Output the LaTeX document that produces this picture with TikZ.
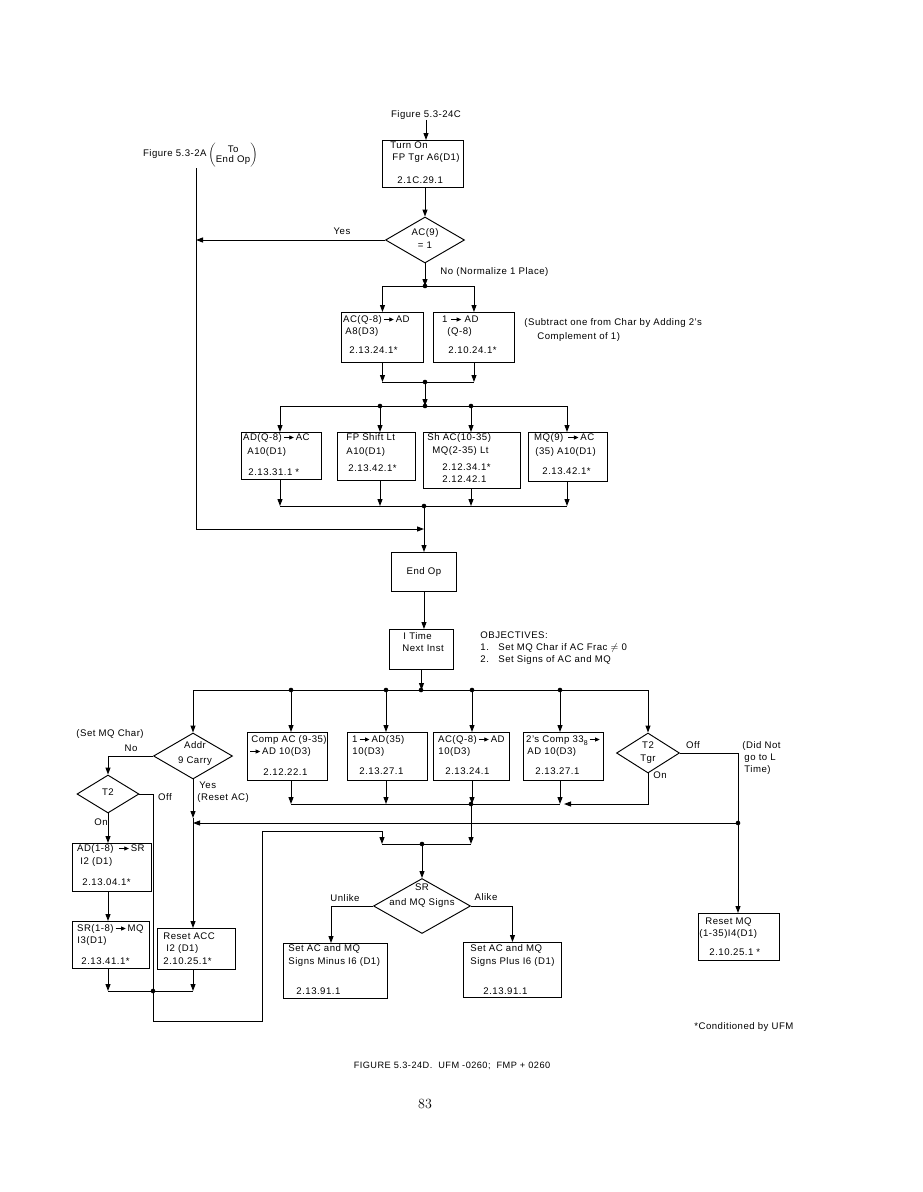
\documentclass[tikz,border=0pt]{standalone}
\usepackage{fontspec}
\setsansfont{Liberation Sans}[LetterSpace=5]
\usetikzlibrary{arrows.meta,shapes.geometric}
\newcommand{\rarr}{\,\tikz[baseline=0pt,x=1pt,y=1pt]\draw[line width=0.8pt,-{Triangle[length=4.5pt,width=4pt]}](0pt,3pt)--(10pt,3pt);\,}
\begin{document}
\begin{tikzpicture}[x=1pt,y=-1pt,line width=0.95pt,
  >={Triangle[length=7pt,width=5pt]},
  font=\sffamily\fontsize{9.6}{11}\selectfont,
  box/.style={draw,inner sep=0pt,anchor=north west},
  dia/.style={draw,diamond,inner sep=0pt},
  lbl/.style={inner sep=0pt,anchor=west,text height=7pt,text depth=2pt},
  clbl/.style={lbl,anchor=center}]
\fill[white] (0,0) rectangle (923,1192);
\useasboundingbox (0,0) rectangle (923,1192);

% ---------- top ----------
\node[clbl] (figC) at (426,115) {Figure 5.3-24C};
\node[box,minimum width=81pt,minimum height=47pt] (b1) at (382,140) {};
\node[lbl] (b1a) at (390,146) {Turn On};
\node[lbl] (b1b) at (392,158) {FP Tgr A6(D1)};
\node[lbl] (b1c) at (397,181) {2.1C.29.1};
\draw[->] (figC.south) -- (figC.south |- b1.north);

\node[dia,minimum width=79pt,minimum height=46pt] (d1) at (425,240) {};
\node[clbl] (d1a) at (425,233) {AC(9)};
\node[clbl] (d1b) at (425,246) {= 1};
\draw[->] (d1.north |- b1.south) -- (d1.north);

% left return line
\coordinate (L1) at (196,168);
\coordinate (L2) at (196,529);
\node[lbl,anchor=east] (fig2a) at (207,154) {Figure 5.3-2A};
\node[inner sep=0pt,anchor=west] (fig2b) at (208,155) {$\left(\begin{tabular}{@{}c@{}}To\\[-1pt]End Op\end{tabular}\right)$};
\draw[->] (d1.west) -- (d1.west -| L1);
\node[clbl] (yes1) at (342,232) {Yes};

% No branch
\coordinate (j1) at (425,286);
\draw[->] (d1.south) -- (j1);
\fill (j1) circle (2.3pt);
\node[lbl] (no1) at (440,272) {No (Normalize 1 Place)};

\node[box,minimum width=82pt,minimum height=50pt] (bA) at (341,312) {};
\node[box,minimum width=81pt,minimum height=50pt] (bB) at (433,312) {};
\draw (bA.north |- j1) -- (bB.north |- j1);
\draw[->] (bA.north |- j1) -- (bA.north);
\draw[->] (bB.north |- j1) -- (bB.north);
\node[lbl] (bAa) at (343,320) {AC(Q-8)\rarr AD};
\node[lbl] (bAb) at (345,332) {A8(D3)};
\node[lbl] (bAc) at (349,351) {2.13.24.1*};
\node[lbl] (bBa) at (442,320) {1\,\rarr\,AD};
\node[lbl] (bBb) at (447,332) {(Q-8)};
\node[lbl] (bBc) at (448,351) {2.10.24.1*};
\node[lbl] (sub1) at (524,323) {(Subtract one from Char by Adding 2's};
\node[lbl] (sub2) at (537,337) {Complement of 1)};

\coordinate (j2) at (425,382);
\draw[->] (bA.south) -- (bA.south |- j2);
\draw[->] (bB.south) -- (bB.south |- j2);
\draw (bA.south |- j2) -- (bB.south |- j2);
\fill (j2) circle (2.3pt);
\coordinate (j3) at (425,406);
\draw[->] (j2) -- (j3);

% four boxes
\node[box,minimum width=80pt,minimum height=47pt] (bC) at (241,432) {};
\node[box,minimum width=78pt,minimum height=48pt] (bD) at (337,432) {};
\node[box,minimum width=97pt,minimum height=56pt] (bE) at (423,432) {};
\node[box,minimum width=79pt,minimum height=49pt] (bF) at (528,432) {};
\coordinate (xC) at (280,406);
\coordinate (xD) at (380,406);
\coordinate (xE) at (471,406);
\coordinate (xF) at (567,406);
\draw (xC) -- (xF);
\foreach \p in {xD,j3,xE} \fill (\p) circle (2.3pt);
\draw[->] (xC) -- (xC |- bC.north);
\draw[->] (xD) -- (xD |- bD.north);
\draw[->] (xE) -- (xE |- bE.north);
\draw[->] (xF) -- (xF |- bF.north);
\node[lbl] (bCa) at (243,438) {AD(Q-8)\rarr AC};
\node[lbl] (bCb) at (247,452) {A10(D1)};
\node[lbl] (bCc) at (248,473) {2.13.31.1 *};
\node[lbl] (bDa) at (346,438) {FP Shift Lt};
\node[lbl] (bDb) at (346,452) {A10(D1)};
\node[lbl] (bDc) at (348,469) {2.13.42.1*};
\node[lbl] (bEa) at (427,438) {Sh AC(10-35)};
\node[lbl] (bEb) at (432,451) {MQ(2-35) Lt};
\node[lbl] (bEc) at (442,468) {2.12.34.1*};
\node[lbl] (bEd) at (442,480) {2.12.42.1};
\node[lbl] (bFa) at (534,438) {MQ(9) \rarr AC};
\node[lbl] (bFb) at (535,452) {(35) A10(D1)};
\node[lbl] (bFc) at (542,472) {2.13.42.1*};

\coordinate (j4) at (424,506);
\draw[->] (xC |- bC.south) -- (xC |- j4);
\draw[->] (xD |- bD.south) -- (xD |- j4);
\draw[->] (xE |- bE.south) -- (xE |- j4);
\draw[->] (xF |- bF.south) -- (xF |- j4);
\draw (xC |- j4) -- (xF |- j4);
\fill (j4) circle (2.3pt);

% End Op
\node[box,minimum width=65pt,minimum height=39pt] (bEnd) at (391,552) {};
\node[clbl] (bEnda) at (bEnd.center) {End Op};
\draw[->] (j4) -- (j4 |- bEnd.north);
\draw[->] (L1) -- (L2) -- (L2 -| j4);

% I Time
\node[box,minimum width=64pt,minimum height=40pt] (bIT) at (389,629) {};
\node[lbl] (bITa) at (403,637) {I Time};
\node[lbl] (bITb) at (402,649) {Next Inst};
\draw[->] (bEnd.south) -- (bEnd.south |- bIT.north);
\node[lbl] (obj0) at (480,636) {OBJECTIVES:};
\node[lbl] (obj1) at (480,648) {\makebox[18pt][l]{1.}Set MQ Char if AC Frac $\neq$ 0};
\node[lbl] (obj2) at (480,660) {\makebox[18pt][l]{2.}Set Signs of AC and MQ};

\coordinate (j5) at (421,690);
\draw[->] (bIT.south) -- (bIT.south |- j5);

% row of six
\coordinate (yA) at (193,690);
\coordinate (yG) at (291,690);
\coordinate (yH) at (386,690);
\coordinate (yI) at (472,690);
\coordinate (yJ) at (560,690);
\coordinate (yT) at (648,690);
\draw (yA) -- (yT);
\foreach \p in {yG,yH,j5,yI,yJ} \fill (\p) circle (2.3pt);

\node[dia,minimum width=79pt,minimum height=46pt] (dA) at (193,756) {};
\node[clbl] (dAa) at (195,746) {Addr};
\node[clbl] (dAb) at (195,761) {9 Carry};
\node[dia,minimum width=63pt,minimum height=40pt] (dT) at (648,753) {};
\node[clbl] (dTa) at (648,746) {T2};
\node[clbl] (dTb) at (648,759) {Tgr};

\node[box,minimum width=80pt,minimum height=48pt] (bG) at (247,732) {};
\node[box,minimum width=80pt,minimum height=48pt] (bH) at (347,732) {};
\node[box,minimum width=76pt,minimum height=48pt] (bI) at (433,732) {};
\node[box,minimum width=80pt,minimum height=48pt] (bJ) at (523,732) {};
\draw[->] (yA) -- (dA.north);
\draw[->] (yG) -- (yG |- bG.north);
\draw[->] (yH) -- (yH |- bH.north);
\draw[->] (yI) -- (yI |- bI.north);
\draw[->] (yJ) -- (yJ |- bJ.north);
\draw[->] (yT) -- (dT.north);

\node[lbl] (bGa) at (251,740) {Comp AC (9-35)};
\node[lbl] (bGb) at (248,752) {\rarr AD 10(D3)};
\node[lbl] (bGc) at (263,773) {2.12.22.1};
\node[lbl] (bHa) at (352,740) {1\rarr AD(35)};
\node[lbl] (bHb) at (352,752) {10(D3)};
\node[lbl] (bHc) at (359,772) {2.13.27.1};
\node[lbl] (bIa) at (438,740) {AC(Q-8)\rarr AD};
\node[lbl] (bIb) at (438,752) {10(D3)};
\node[lbl] (bIc) at (445,772) {2.13.24.1};
\node[lbl] (bJa) at (526,740) {2's Comp 33\raisebox{-2.5pt}{\fontsize{7}{8}\selectfont 8}\rarr};
\node[lbl] (bJb) at (527,752) {AD 10(D3)};
\node[lbl] (bJc) at (535,772) {2.13.27.1};

\coordinate (j6) at (471,804);
\draw[->] (yG |- bG.south) -- (yG |- j6);
\draw[->] (yH |- bH.south) -- (yH |- j6);
\draw[->] (yI |- bI.south) -- (yI |- j6);
\draw[->] (yJ |- bJ.south) -- (yJ |- j6);
\draw (yG |- j6) -- (yJ |- j6);
\draw[->] (dT.south) |- (564,804);
\fill (j6) circle (2.3pt);
\node[clbl] (on1) at (660,776) {On};
\node[clbl] (off1) at (693,746) {Off};
\node[lbl] (dn1) at (742,746) {(Did Not};
\node[lbl] (dn2) at (744,758) {go to L};
\node[lbl] (dn3) at (744,770) {Time)};

% Off branch of T2 Tgr
\coordinate (jR) at (738,823);
\node[box,minimum width=81pt,minimum height=47pt] (bP) at (698,913) {};
\draw (dT.east) -| (jR);
\fill (jR) circle (2.3pt);
\draw[->] (jR) -- (jR |- bP.north);
\node[lbl] (bPa) at (705,922) {Reset MQ};
\node[lbl] (bPb) at (699,934) {(1-35)I4(D1)};
\node[lbl] (bPc) at (709,953) {2.10.25.1 *};

% left part
\node[lbl] (smq) at (76,734) {(Set MQ Char)};
\node[clbl] (no2) at (131,749) {No};
\node[dia,minimum width=62pt,minimum height=38pt] (d2) at (108,794) {};
\node[clbl] (d2a) at (108,793) {T2};
\draw[->] (dA.west) -| (d2.north);
\node[clbl] (off2) at (165,798) {Off};
\node[clbl] (on2) at (101,823) {On};
\node[lbl] (yes2) at (199,786) {Yes};
\node[lbl] (yes3) at (197,798) {(Reset AC)};

\node[box,minimum width=79pt,minimum height=48pt] (bK) at (72,843) {};
\node[box,minimum width=77pt,minimum height=47pt] (bL) at (72,921) {};
\node[box,minimum width=78pt,minimum height=41pt] (bM) at (157,928) {};
\draw[->] (d2.south) -- (d2.south |- bK.north);
\draw[->] (d2.south |- bK.south) -- (d2.south |- bL.north);
\node[lbl] (bKa) at (77,849) {AD(1-8) \rarr SR};
\node[lbl] (bKb) at (80,862) {I2 (D1)};
\node[lbl] (bKc) at (82,883) {2.13.04.1*};
\node[lbl] (bLa) at (77,929) {SR(1-8)\rarr MQ};
\node[lbl] (bLb) at (77,941) {I3(D1)};
\node[lbl] (bLc) at (81,962) {2.13.41.1*};
\node[lbl] (bMa) at (163,937) {Reset ACC};
\node[lbl] (bMb) at (166,949) {I2 (D1)};
\node[lbl] (bMc) at (163,962) {2.10.25.1*};

\coordinate (yM) at (193,818);
\coordinate (jL) at (153,991);
\draw[->] (dA.south) -- (yM);
\draw[->] (yM) -- (yM |- bM.north);
\draw[->] (jR) -- (yM |- jR);
\draw (d2.east) -| (jL);
\draw[->] (d2.south |- bL.south) -- (d2.south |- jL);
\draw[->] (yM |- bM.south) -- (yM |- jL);
\draw (d2.south |- jL) -- (yM |- jL);
\fill (jL) circle (2.3pt);

% loop to SR
\coordinate (j7) at (422,844);
\draw[->] (jL) -- (153,1021) -- (262,1021) -- (262,831) -- (382,831) -- (382,844);
\draw[->] (j6) -- (j6 |- j7);
\draw (382,844) -- (j6 |- j7);
\fill (j7) circle (2.3pt);

\node[dia,minimum width=97pt,minimum height=55pt] (dS) at (422,906) {};
\node[clbl] (dSa) at (422,888) {SR};
\node[clbl] (dSb) at (422,903) {and MQ Signs};
\draw[->] (j7) -- (dS.north);

\node[box,minimum width=104pt,minimum height=55pt] (bN) at (283,943) {};
\node[box,minimum width=98pt,minimum height=55pt] (bO) at (463,942) {};
\coordinate (xN) at (331,906);
\draw[->] (dS.west) -- (xN) -- (xN |- bN.north);
\draw[->] (dS.east) -| (bO.north);
\node[clbl] (unl) at (345,899) {Unlike};
\node[clbl] (alk) at (486,898) {Alike};
\node[lbl] (bNa) at (288,949) {Set AC and MQ};
\node[lbl] (bNb) at (288,962) {Signs Minus I6 (D1)};
\node[lbl] (bNc) at (296,992) {2.13.91.1};
\node[lbl] (bOa) at (470,949) {Set AC and MQ};
\node[lbl] (bOb) at (470,962) {Signs Plus I6 (D1)};
\node[lbl] (bOc) at (483,992) {2.13.91.1};

\node[lbl] (cond) at (694,1027) {*Conditioned by UFM};
\node[clbl,font=\sffamily\fontsize{9.2}{11}\selectfont] (cap) at (452,1066) {FIGURE 5.3-24D.\ \ UFM -0260;\ \ FMP + 0260};
\node[clbl,font=\rmfamily\fontsize{14}{16}\selectfont] (pg) at (425,1106) {83};
\end{tikzpicture}
\end{document}
